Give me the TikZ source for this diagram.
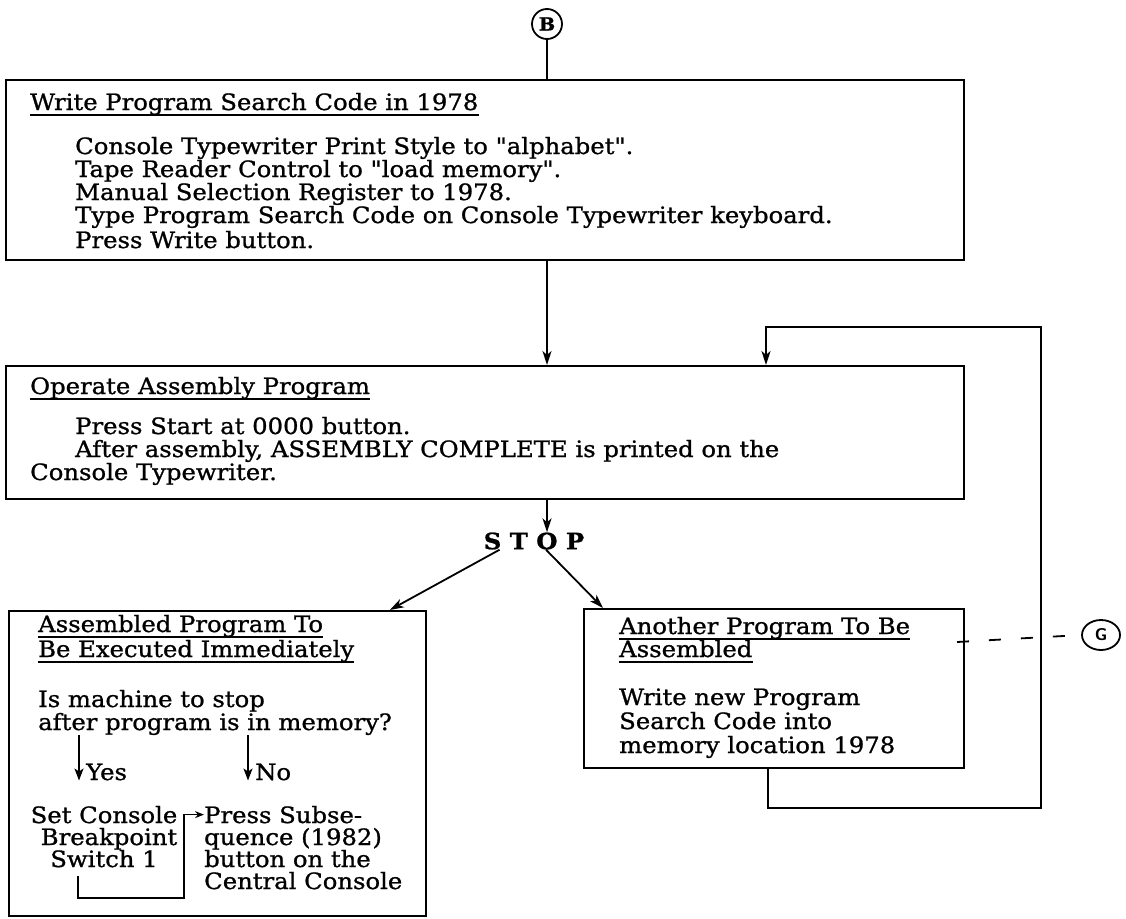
\documentclass[tikz,border=0pt]{standalone}
\usepackage{fontspec}
\setmainfont{DejaVu Serif}[FakeStretch=1.08,FakeBold=1]
\font\qfont="DejaVu Serif:extend=1.08;embolden=1" at 22.5pt
\newcommand\dq{{\qfont\char34}}
\usetikzlibrary{arrows.meta,calc,shapes.geometric}
\begin{document}
\begin{tikzpicture}[x=1pt,y=-1pt,
  boxst/.style={draw, line width=1.8pt, rectangle, anchor=north west, inner sep=0pt},
  tx/.style={anchor=base west, inner sep=0pt, font=\fontsize{22.5}{23}\selectfont},
  txc/.style={anchor=base, inner sep=0pt, font=\fontsize{22.5}{23}\selectfont},
  ul/.style={line width=1.4pt},
  ln/.style={line width=1.8pt},
  arr/.style={line width=1.8pt, -{Stealth[length=14pt,width=9pt,inset=4pt]}},
  sarr/.style={line width=1.6pt, -{Stealth[length=12pt,width=9pt,inset=3pt]}}]
\useasboundingbox (0,0) rectangle (1126,918);

% B connector circle
\node[draw, circle, line width=1.8pt, minimum size=30pt, inner sep=0pt, font=\bfseries\fontsize{18}{18}\selectfont] (bc) at (547,24) {B};

% boxes
\node[boxst, minimum width=958pt, minimum height=180pt] (b1) at (5,79) {};
\node[boxst, minimum width=958pt, minimum height=133pt] (b2) at (5,365) {};
\node[boxst, minimum width=417pt, minimum height=305pt] (b3) at (8,610) {};
\node[boxst, minimum width=380pt, minimum height=159pt] (b4) at (583,608) {};

% box 1 text
\node[tx] (t1) at (30,110) {Write Program Search Code in 1978};
\draw[ul] ($(t1.base west)+(0,5)$) -- ($(t1.base east)+(0,5)$);
\node[tx] (t1a) at (75,154) {Console Typewriter Print Style to \dq alphabet\dq.};
\node[tx] (t1b) at (75,177) {Tape Reader Control to \dq load memory\dq.};
\node[tx] (t1c) at (75,200) {Manual Selection Register to 1978.};
\node[tx] (t1d) at (75,223) {Type Program Search Code on Console Typewriter keyboard.};
\node[tx] (t1e) at (75,248) {Press Write button.};

% box 2 text
\node[tx] (t2) at (30,394) {Operate Assembly Program};
\draw[ul] ($(t2.base west)+(0,5)$) -- ($(t2.base east)+(0,5)$);
\node[tx] (t2a) at (75,434) {Press Start at 0000 button.};
\node[tx] (t2b) at (75,457) {After assembly, ASSEMBLY COMPLETE is printed on the};
\node[tx] (t2c) at (30,480) {Console Typewriter.};

% STOP
\node[inner sep=0pt, font=\bfseries\fontsize{22.5}{23}\selectfont] (stop) at (534,541) {S T O P};

% box 3 text
\node[tx] (t3) at (38,632) {Assembled Program To};
\draw[ul] ($(t3.base west)+(0,5)$) -- ($(t3.base east)+(0,5)$);
\node[tx] (t3b) at (38,657) {Be Executed Immediately};
\draw[ul] ($(t3b.base west)+(0,5)$) -- ($(t3b.base east)+(0,5)$);
\node[tx] (t3c) at (38,707) {Is machine to stop};
\node[tx] (t3d) at (38,730) {after program is in memory?};
\node[tx] (yes) at (86,780) {Yes};
\node[tx] (no) at (255,780) {No};
\node[txc] (sc) at (104,823) {Set Console};
\node[txc] (bp) at (109,845) {Breakpoint};
\node[txc] (sw) at (104,867) {Switch 1};
\node[tx] (ps) at (204,823) {Press Subse-};
\node[tx] (qu) at (204,845) {quence (1982)};
\node[tx] (bo) at (204,867) {button on the};
\node[tx] (cc) at (204,889) {Central Console};

% box 4 text
\node[tx] (t4) at (619,634) {Another Program To Be};
\draw[ul] ($(t4.base west)+(0,5)$) -- ($(t4.base east)+(0,5)$);
\node[tx] (t4b) at (619,657) {Assembled};
\draw[ul] ($(t4b.base west)+(0,5)$) -- ($(t4b.base east)+(0,5)$);
\node[tx] (t4c) at (619,705) {Write new Program};
\node[tx] (t4d) at (619,729) {Search Code into};
\node[tx] (t4e) at (619,753) {memory location 1978};

% G connector
\node[draw, ellipse, line width=1.8pt, minimum width=38pt, minimum height=30pt, inner sep=0pt, font=\sffamily\bfseries\fontsize{17}{17}\selectfont] (g) at (1101,635) {G};

% connectors
\draw[ln] (bc.south) -- (bc.south |- b1.north);
\draw[arr] (b1.south -| bc) -- (b2.north -| bc);
\draw[arr] (b2.south -| bc) -- (stop.north -| bc);
\draw[arr] ($(stop.south west)+(16,0)$) -- ($(b3.north east)+(-37,0)$);
\draw[arr] ($(stop.south)+(12,0)$) -- ($(b4.north west)+(20,0)$);

\coordinate (f1) at (768,808);
\coordinate (f2) at (1041,808);
\coordinate (f3) at (1041,327);
\coordinate (f4) at (766,327);
\draw[arr] (b4.south -| f1) -- (f1) -- (f2) -- (f3) -- (f4) -- (b2.north -| f4);

\coordinate (gd) at (957,642);
\draw[line width=1.8pt, dash pattern=on 12pt off 20pt] (gd) -- (g.west);

% yes / no arrows
\draw[sarr] ([xshift=-7pt]yes.west |- t3d.south) -- ([xshift=-7pt]yes.south west);
\draw[sarr] ([xshift=-7pt]no.west |- t3d.south) -- ([xshift=-7pt]no.south west);

% bracket from Switch 1 to Press
\coordinate (k1) at (78,876);
\coordinate (k2) at (78,898);
\coordinate (k3) at (184,898);
\draw[line width=1.4pt, -{Stealth[length=9pt,width=7pt]}] (k1) -- (k2) -- (k3) -- (k3 |- ps.west) -- (ps.west);
\end{tikzpicture}
\end{document}
